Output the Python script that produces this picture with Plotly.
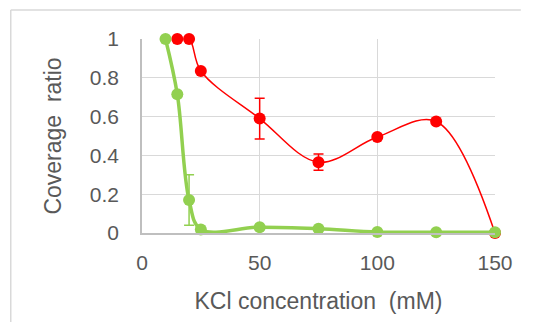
import plotly.graph_objects as go

# Data
red_x = [15, 20, 25, 50, 75, 100, 125, 150]
red_y = [1.0, 1.0, 0.835, 0.59, 0.365, 0.495, 0.575, 0.0]
red_err = [0, 0, 0, 0.105, 0.042, 0, 0, 0]

green_x = [10, 15, 20, 25, 50, 75, 100, 125, 150]
green_y = [1.0, 0.715, 0.17, 0.018, 0.03, 0.022, 0.005, 0.004, 0.004]
green_err = [0, 0, 0.13, 0, 0, 0, 0, 0, 0]

x_ticks = [0, 50, 100, 150]
y_ticks = [0, 0.2, 0.4, 0.6, 0.8, 1]
y_tick_text = ["0", "0.2", "0.4", "0.6", "0.8", "1"]

RED = "#FF0000"
GREEN = "#92D050"
TXT = "#595959"
FONT = "Liberation Sans, Arial, sans-serif"

fig = go.Figure()
fig.add_trace(go.Scatter(
    x=red_x, y=red_y, mode="lines+markers",
    line=dict(color=RED, width=1.5, shape="spline", smoothing=1),
    marker=dict(color=RED, size=12),
    error_y=dict(type="data", array=red_err, visible=True, color=RED, thickness=1.5, width=5),
    cliponaxis=False, showlegend=False,
))
fig.add_trace(go.Scatter(
    x=green_x, y=green_y, mode="lines+markers",
    line=dict(color=GREEN, width=3.5, shape="spline", smoothing=1),
    marker=dict(color=GREEN, size=12),
    error_y=dict(type="data", array=green_err, visible=True, color=GREEN, thickness=1.5, width=5),
    cliponaxis=False, showlegend=False,
))

OFF = 8  # page body margin
W, H = 533 - 2 * OFF, 332 - 2 * OFF
L, T = 142 - OFF, 39 - OFF
pw, ph = 355, 194
R = W - L - pw
B = H - T - ph

def px(xs):
    return (xs - OFF - L) / pw

def py(ys):
    return (T + ph - (ys - OFF)) / ph

fig.update_layout(
    width=W, height=H,
    margin=dict(l=L, r=R, t=T, b=B, pad=0),
    paper_bgcolor="white", plot_bgcolor="white",
    font=dict(family=FONT, color=TXT, size=21),
    xaxis=dict(
        range=[0, 150], tickvals=x_ticks, showgrid=True, gridcolor="#D9D9D9", gridwidth=1.3,
        showline=True, linecolor="#BFBFBF", linewidth=1.5, zeroline=False,
        ticks="", tickfont=dict(size=21, color=TXT), ticklabelstandoff=10,
        title=dict(text="KCl concentration  (mM)", font=dict(size=23, color=TXT), standoff=20),
    ),
    yaxis=dict(
        range=[0, 1], tickvals=y_ticks, ticktext=y_tick_text, showgrid=True, gridcolor="#D9D9D9", gridwidth=1.3,
        showline=True, linecolor="#BFBFBF", linewidth=1.5, zeroline=False,
        ticks="", tickfont=dict(size=21, color=TXT), ticklabelstandoff=17,
        title=dict(text="Coverage  ratio", font=dict(size=23, color=TXT), standoff=22),
    ),
    shapes=[
        dict(type="line", xref="paper", yref="paper", x0=px(10), x1=px(10), y0=py(10), y1=py(322),
             line=dict(color="#D9D9D9", width=1.5), layer="above"),
        dict(type="line", xref="paper", yref="paper", x0=px(10), x1=px(523), y0=py(10), y1=py(10),
             line=dict(color="#D9D9D9", width=1.5), layer="above"),
    ],
)

fig.write_html("out.html")
